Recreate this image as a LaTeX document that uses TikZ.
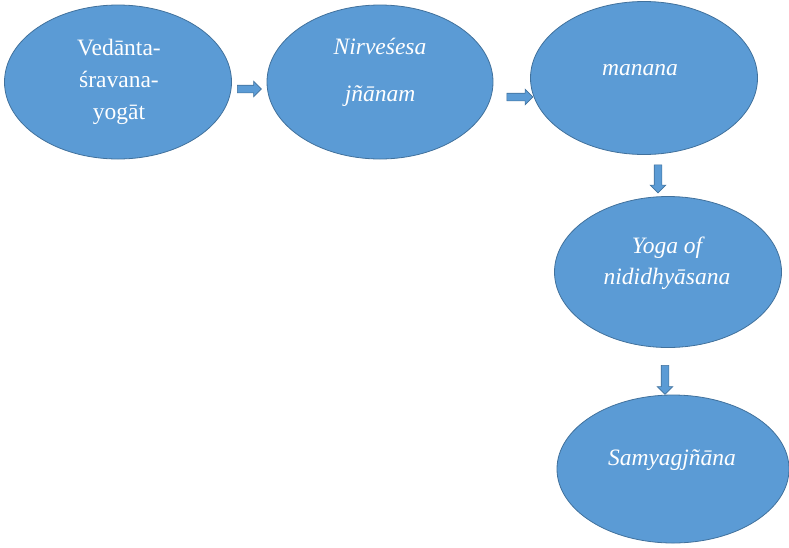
\documentclass[tikz,border=0pt]{standalone}
\usepackage{fontspec}
\setmainfont{Liberation Serif}
\usetikzlibrary{shapes.geometric,shapes.arrows}
\definecolor{stageblue}{RGB}{91,155,213}
\definecolor{stageedge}{RGB}{65,113,156}

\begin{document}
\begin{tikzpicture}[x=1pt,y=-1pt,
  stage/.style={ellipse,draw=stageedge,fill=stageblue,line width=0.8pt,inner sep=0pt},
  txt/.style={text=white,font=\fontsize{23.5}{32}\selectfont,align=center,inner sep=0pt},
  blk/.style={single arrow,draw=stageedge,fill=stageblue,line width=0.6pt,inner sep=3.5pt,single arrow head extend=4pt}]
\useasboundingbox (0,0) rectangle (789,547);
% the five stages
\node[stage,minimum width=227pt,minimum height=154pt] (ved) at (118,82) {};
\node[stage,minimum width=226pt,minimum height=154pt] (nir) at (380,82) {};
\node[stage,minimum width=227pt,minimum height=153pt] (man) at (644,78) {};
\node[stage,minimum width=227pt,minimum height=151pt] (yog) at (668,272) {};
\node[stage,minimum width=232pt,minimum height=148pt] (sam) at (673,469) {};
% their texts
\node[txt] (vedT) at (119,82) {Ved\={a}nta-\\\'{s}ravana-\\yog\={a}t};
\node[txt,font=\fontsize{23.5}{47}\selectfont\itshape] (nirT) at (380,72) {Nirve\'{s}esa\\j\~{n}\={a}nam};
\node[txt,font=\fontsize{23.5}{32}\selectfont\itshape] (manT) at (640,70) {manana};
\node[txt,font=\fontsize{23.5}{31}\selectfont\itshape] (yogT) at (667,263) {Yoga of\\nididhy\={a}sana};
\node[txt,font=\fontsize{23.5}{32}\selectfont\itshape] (samT) at (672,460) {Samyagj\~{n}\={a}na};
% block arrows between them
\node[blk,minimum height=24pt] (a1) at (247.5,89) {};
\node[blk,minimum height=26pt] (a2) at (518,97) {};
\node[blk,minimum height=28pt,shape border rotate=270] (a3) at (658,177) {};
\node[blk,minimum height=29pt,shape border rotate=270] (a4) at (665,378) {};
\end{tikzpicture}
\end{document}
